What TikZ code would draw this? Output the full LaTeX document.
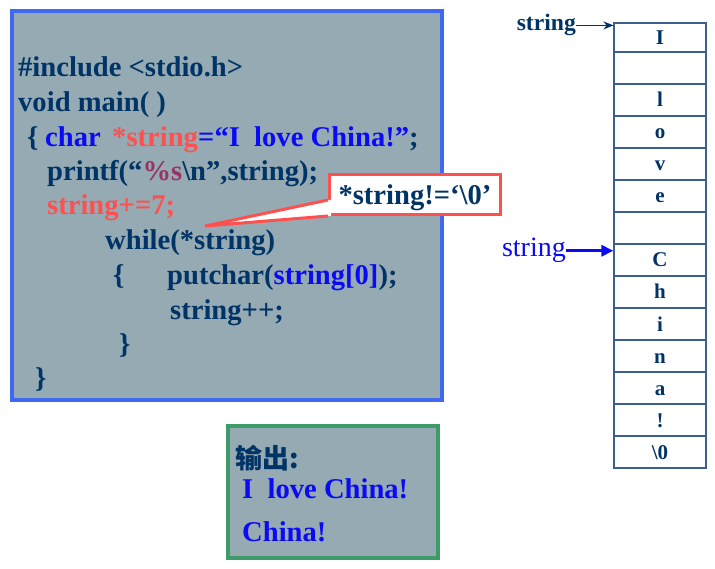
\documentclass[tikz,border=0pt]{standalone}
\usepackage{fontspec}
\setmainfont{Liberation Serif}
\newfontfamily\cjk{Noto Sans CJK SC}
\usetikzlibrary{arrows.meta}
\definecolor{navy}{RGB}{0,51,102}
\definecolor{cblue}{RGB}{10,10,245}
\definecolor{cred}{RGB}{255,80,80}
\definecolor{cmag}{RGB}{153,51,102}
\definecolor{boxgray}{RGB}{149,170,178}
\definecolor{boxblue}{RGB}{65,105,240}
\definecolor{boxgreen}{RGB}{60,155,105}
\definecolor{cellline}{RGB}{59,96,140}
\tikzset{
  codeline/.style={anchor=base west, inner sep=0pt, font=\fontsize{28.6}{34}\selectfont\bfseries, text=navy},
  panel/.style={anchor=north west, inner sep=0pt, fill=boxgray},
  memcell/.style={draw=cellline, line width=1.2pt, minimum width=92pt, minimum height=32pt, inner sep=0pt,
    font=\fontsize{21}{24}\selectfont\bfseries, text=navy, text height=14pt, text depth=0pt}
}
\begin{document}
\begin{tikzpicture}[x=1pt,y=-1pt]
\useasboundingbox (0,0) rectangle (715,569);
% code panel
\node[panel, draw=boxblue, line width=4pt, minimum width=430pt, minimum height=388pt] (code) at (10,9.5) {};
\node[codeline] (l1) at (18,76.5) {\#include <stdio.h>};
\node[codeline] (l2) at (18,111.5) {void main( )};
\node[codeline] (l3a) at (27,146.5) {\{};
\node[codeline, text=cblue] (l3b) at (45,146.5) {char};
\node[codeline, text=cred] (l3c) at (112,146.5) {*string};
\node[codeline] (l3d) at (198,146.5) {\textcolor{cblue}{=“I\ \ love China!”};};
\node[codeline] (l4) at (47,180.5) {printf(“\textcolor{cmag}{\%s}\textbackslash n”,string);};
\node[codeline, text=cred] (l5) at (47,214.5) {string+=7;};
\node[codeline] (l6) at (105,249.5) {while(*string)};
\node[codeline] (l7a) at (113,284.5) {\{};
\node[codeline] (l7b) at (167,284.5) {putchar(\textcolor{cblue}{string[0]});};
\node[codeline] (l8) at (170,319.5) {string++;};
\node[codeline] (l9) at (119,353.5) {\}};
\node[codeline] (l10) at (35,387.5) {\}};
% callout
\coordinate (tip) at (205,226);
\node[anchor=north west, draw=cred, line width=3pt, fill=white, minimum width=171pt, minimum height=40pt,
  inner sep=0pt, font=\fontsize{28.6}{34}\selectfont\bfseries, text=navy, text height=20pt, text depth=0pt]
  (callout) at (328,173) {*string!=‘\textbackslash0’};
\coordinate (wtop) at ([yshift=16pt]callout.south west);
\fill[white] (wtop) -- (tip) -- (callout.south west) -- ++(3,0) -- ([xshift=3pt]wtop) -- cycle;
\draw[cred, line width=3pt, line join=miter] (wtop) -- (tip) -- (callout.south west);
% output panel
\node[panel, draw=boxgreen, line width=3.5pt, minimum width=210pt, minimum height=132pt] (outbox) at (226,424) {};
\node[anchor=base west, inner sep=0pt, font=\cjk\bfseries\fontsize{27}{30}\selectfont, text=navy] (o1) at (235,468) {输出:};
\node[codeline, text=cblue] (o2) at (242,498) {I\ \ love China!};
\node[codeline, text=cblue] (o3) at (242,541) {China!};
% memory cells
\node[memcell, minimum height=29pt] (m1) at (660,37.5) {I};
\foreach \t [count=\i from 2] in {{},l,o,v,e,{},C,h,i,n,a,!,\textbackslash0}
  \node[memcell] (m\i) at (660,{68+32*(\i-2)}) {\t};
% pointers
\node[anchor=base east, inner sep=0pt, font=\fontsize{23.6}{26}\selectfont\bfseries, text=navy] (s1) at (576,31) {string};
\draw[navy, line width=1.2pt, -{Stealth[length=10pt,width=8pt]}] (s1.east) -- (s1.east -| m1.west);
\node[anchor=base east, inner sep=0pt, font=\fontsize{28}{30}\selectfont, text=cblue] (s2) at (566,257) {string};
\draw[cblue, line width=3pt, -{Triangle[length=12pt,width=11pt]}] (s2.east) -- (s2.east -| m8.west);
\end{tikzpicture}
\end{document}
